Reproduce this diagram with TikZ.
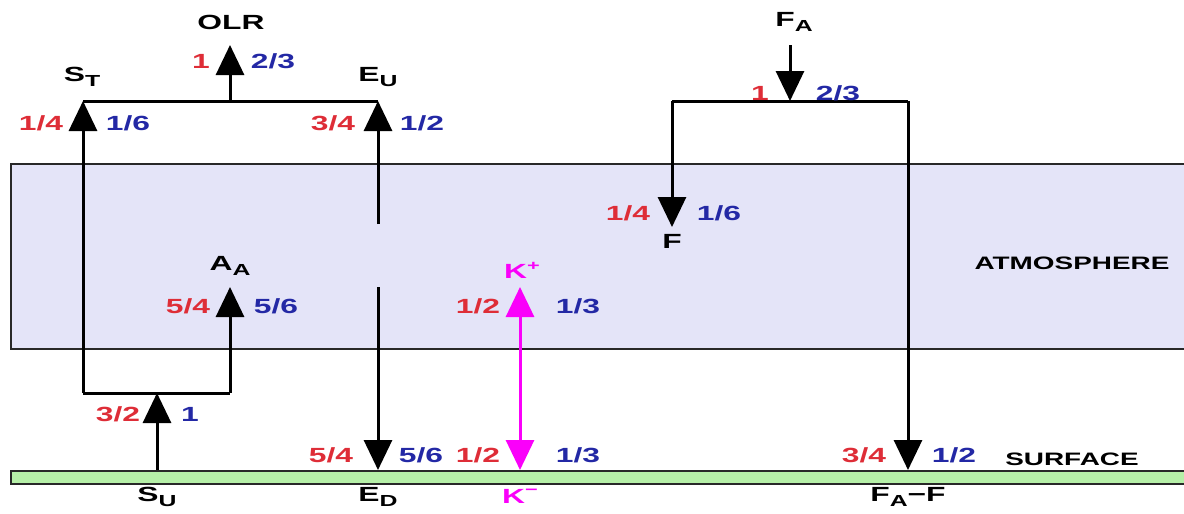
\documentclass[tikz,border=0pt]{standalone}
\usepackage{fontspec}
\setmainfont[FakeStretch=1.55]{Liberation Sans}
\usetikzlibrary{arrows.meta}
\definecolor{nred}{RGB}{222,45,55}
\definecolor{nblue}{RGB}{35,40,165}
\definecolor{kmag}{RGB}{250,0,250}
\definecolor{atmfill}{RGB}{228,228,248}
\definecolor{surffill}{RGB}{182,240,168}
\definecolor{edge}{RGB}{40,40,40}
\newcommand\subx[1]{\raisebox{-0.5ex}{\fontsize{16}{16}\selectfont #1}}
\newcommand\supx[1]{\raisebox{0.75ex}{\fontsize{14}{14}\selectfont #1}}
\begin{document}
\begin{tikzpicture}[x=1pt,y=-1pt,
  every node/.style={font=\fontsize{20.5}{20.5}\selectfont\bfseries, inner sep=0pt},
  rn/.style={text=nred},
  bn/.style={text=nblue},
  mn/.style={text=kmag},
  flow/.style={line width=3pt, draw=black},
  tip/.style={-{Triangle[length=30pt,width=28pt]}},
  layer/.style={line width=1.6pt, draw=edge},
  big/.style={font=\fontsize{18}{18}\selectfont\bfseries}]
\useasboundingbox (0,0) rectangle (1184,514);
% layers
\node[layer, fill=atmfill, minimum width=1200pt, minimum height=185pt, anchor=north west] (atm) at (10,163) {};
\node[layer, fill=surffill, minimum width=1200pt, minimum height=13pt, anchor=north west] (surf) at (10,470) {};
\node[big] (atmlab) at (1072,263) {ATMOSPHERE};
\node[big] (surflab) at (1072,459) {SURFACE};
% coordinates
\coordinate (st) at (83,101);
\coordinate (eu) at (378,101);
\coordinate (olrb) at (230,101);
\coordinate (olrt) at (230,45);
\coordinate (bl) at (83,393);
\coordinate (br) at (230,393);
\coordinate (sut) at (157,393);
\coordinate (sub) at (157,470);
\coordinate (aa) at (230,287);
\coordinate (e1) at (378,224);
\coordinate (e2) at (378,287);
\coordinate (ed) at (378,470);
\coordinate (kt) at (520,287);
\coordinate (kb) at (520,470);
\coordinate (fas) at (790,45);
\coordinate (fat) at (790,101);
\coordinate (fl) at (672,101);
\coordinate (fr) at (908,101);
\coordinate (ft) at (672,227);
\coordinate (faf) at (908,470);
% left circuit
\draw[flow] (st) -- (eu);
\draw[flow, tip] (olrb) -- (olrt);
\draw[flow, tip] (sub) -- (sut);
\draw[flow] (bl) -- (br);
\draw[flow, tip] (bl) -- (st);
\draw[flow, tip] (br) -- (aa);
\draw[flow, tip] (e1) -- (eu);
\draw[flow, tip] (e2) -- (ed);
\draw[line width=3pt, draw=kmag, {Triangle[length=30pt,width=28pt]}-{Triangle[length=30pt,width=28pt]}] (kt) -- (kb);
% right circuit
\draw[flow, tip] (fas) -- (fat);
\draw[flow] (fl) -- (fr);
\draw[flow, tip] (fl) -- (ft);
\draw[flow, tip] (fr) -- (faf);
% names
\node (olr) at (231,22) {OLR};
\node (stl) at (82,77) {S\subx{T}};
\node (eul) at (378,77) {E\subx{U}};
\node (aal) at (230,266) {A\subx{A}};
\node (sul) at (157,497) {S\subx{U}};
\node (edl) at (378,497) {E\subx{D}};
\node[mn] (kpl) at (522,270) {K\supx{+}};
\node[mn] (kml) at (520,496) {K\supx{−}};
\node (fal) at (794,22) {F\subx{A}};
\node (fl2) at (672,241) {F};
\node (fafl) at (908,497) {F\subx{A}−F};
% values
\node[rn] (v1) at (201,61) {1};
\node[bn] (v2) at (273,61) {2/3};
\node[rn] (v3) at (41,123) {1/4};
\node[bn] (v4) at (128,123) {1/6};
\node[rn] (v5) at (333,123) {3/4};
\node[bn] (v6) at (422,123) {1/2};
\node[rn] (v7) at (760,93) {1};
\node[bn] (v8) at (838,93) {2/3};
\node[rn] (v9) at (628,213) {1/4};
\node[bn] (v10) at (719,213) {1/6};
\node[rn] (v11) at (188,306) {5/4};
\node[bn] (v12) at (276,306) {5/6};
\node[rn] (v13) at (478,306) {1/2};
\node[bn] (v14) at (578,306) {1/3};
\node[rn] (v15) at (118,414) {3/2};
\node[bn] (v16) at (190,414) {1};
\node[rn] (v17) at (331,455) {5/4};
\node[bn] (v18) at (421,455) {5/6};
\node[rn] (v19) at (478,455) {1/2};
\node[bn] (v20) at (578,455) {1/3};
\node[rn] (v21) at (864,455) {3/4};
\node[bn] (v22) at (954,455) {1/2};
\end{tikzpicture}
\end{document}
